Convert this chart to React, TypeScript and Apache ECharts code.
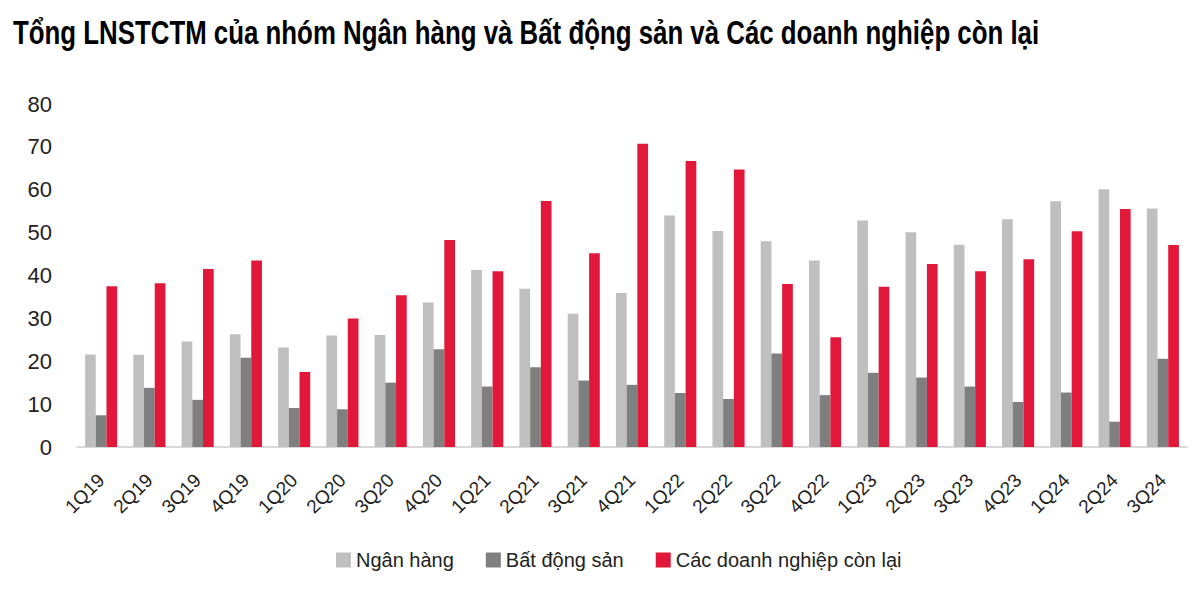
import React, { useEffect, useRef } from "react";
import * as echarts from "echarts";

const categories = [
  "1Q19", "2Q19", "3Q19", "4Q19", "1Q20", "2Q20", "3Q20", "4Q20",
  "1Q21", "2Q21", "3Q21", "4Q21", "1Q22", "2Q22", "3Q22", "4Q22",
  "1Q23", "2Q23", "3Q23", "4Q23", "1Q24", "2Q24", "3Q24",
];
const nganHang = [
  21.6, 21.5, 24.6, 26.3, 23.2, 26.0, 26.1, 33.7,
  41.3, 36.9, 31.1, 35.9, 54.0, 50.4, 48.0, 43.5,
  52.8, 50.1, 47.2, 53.1, 57.3, 60.1, 55.6,
];
const batDongSan = [
  7.4, 13.8, 11.0, 20.8, 9.1, 8.8, 15.0, 22.8,
  14.1, 18.6, 15.5, 14.5, 12.6, 11.2, 21.8, 12.1,
  17.3, 16.2, 14.1, 10.5, 12.7, 5.9, 20.6,
];
const conLai = [
  37.5, 38.2, 41.5, 43.5, 17.5, 30.0, 35.4, 48.3,
  41.0, 57.4, 45.2, 70.7, 66.7, 64.7, 38.0, 25.6,
  37.4, 42.7, 41.0, 43.8, 50.3, 55.5, 47.1,
];
const seriesNames = ["Ngân hàng", "Bất động sản", "Các doanh nghiệp còn lại"];
const colors = ["#bfbfbf", "#7f7f7f", "#e2183a"];
const titleText = "Tổng LNSTCTM của nhóm Ngân hàng và Bất động sản và Các doanh nghiệp còn lại";

const FONT = "'Liberation Sans', Arial, sans-serif";

export default function App() {
  const ref = useRef<HTMLDivElement>(null);
  useEffect(() => {
    if (!ref.current) return;
    const chart = echarts.init(ref.current, undefined, { renderer: "svg" });
    const data = [nganHang, batDongSan, conLai];
    chart.setOption({
      animation: false,
      backgroundColor: "#ffffff",
      graphic: [
        {
          type: "text",
          x: 13,
          y: 15,
          scaleX: 0.76,
          style: {
            text: titleText,
            font: "bold 34px 'Liberation Sans', Arial, sans-serif",
            fill: "#000000",
            verticalAlign: "top",
            align: "left",
          },
        },
      ],
      legend: {
        left: 336,
        top: 550,
        padding: 0,
        itemWidth: 15,
        itemHeight: 15,
        itemGap: 32,
        icon: "rect",
        textStyle: { fontFamily: FONT, fontSize: 20, color: "#222222" },
        data: seriesNames,
      },
      grid: { left: 77, right: 13, top: 104, bottom: 146, containLabel: false },
      xAxis: {
        type: "category",
        data: categories,
        axisLine: { lineStyle: { color: "#d9d9d9", width: 2 } },
        axisTick: { show: false },
        axisLabel: {
          rotate: 45,
          margin: 30,
          fontFamily: FONT,
          fontSize: 19,
          color: "#222222",
          interval: 0,
        },
      },
      yAxis: {
        type: "value",
        min: 0,
        max: 80,
        interval: 10,
        axisLine: { show: false },
        axisTick: { show: false },
        splitLine: { show: false },
        axisLabel: { margin: 25, fontFamily: FONT, fontSize: 22, color: "#222222" },
      },
      series: seriesNames.map((name, i) => ({
        name,
        type: "bar",
        data: data[i],
        barWidth: 10.7,
        barGap: "0%",
        itemStyle: { color: colors[i] },
      })),
    });
    return () => chart.dispose();
  }, []);
  return <div ref={ref} style={{ width: 1200, height: 593, margin: -8 }} />;
}
